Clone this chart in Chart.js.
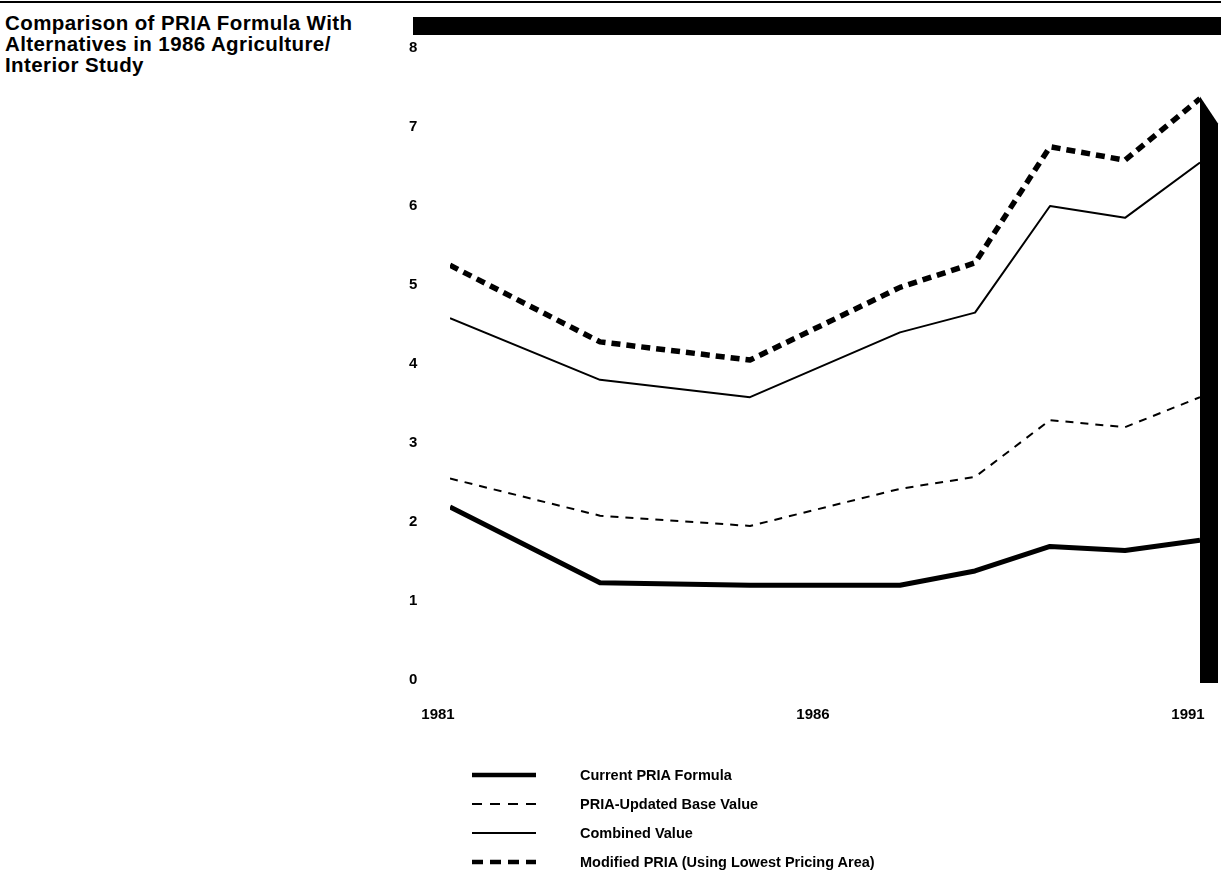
<!DOCTYPE html>
<html>
<head>
<meta charset="utf-8">
<script src="https://cdn.jsdelivr.net/npm/chart.js@4.4.1/dist/chart.umd.min.js"></script>
<style>
    body {
        margin: 0;
        width: 1221px;
        height: 880px;
        background: #ffffff;
        position: relative;
        overflow: hidden;
        font-family: "Liberation Sans", Arial, sans-serif;
        color: #000000;
    }
    .top_rule {
        position: absolute;
        left: 0;
        top: 1px;
        width: 1221px;
        height: 2px;
        background: #000000;
    }
    .page_title {
        position: absolute;
        left: 5px;
        top: 12px;
        font-size: 20.5px;
        line-height: 21px;
        font-weight: bold;
        letter-spacing: 0.4px;
    }
    .chart_box {
        position: absolute;
        left: 400px;
        top: 0;
        width: 821px;
        height: 730px;
    }
    .legend_box {
        position: absolute;
        left: 472px;
        top: 760px;
    }
    .legend_row {
        height: 29px;
        display: flex;
        align-items: center;
        font-size: 14.5px;
        font-weight: bold;
    }
    .legend_row canvas {
        width: 64px;
        height: 10px;
        margin-right: 44px;
    }
</style>
</head>
<body>
<div class="top_rule"></div>
<div class="page_title">Comparison of PRIA Formula With<br>Alternatives in 1986 Agriculture/<br>Interior Study</div>
<div class="chart_box"><canvas id="pria_chart"></canvas></div>
<div class="legend_box" id="pria_legend"></div>

<script>
// years where the plotted lines change direction
const pria_years = [1981, 1983, 1985, 1987, 1988, 1989, 1990, 1991];
const current_formula = [2.19, 1.23, 1.20, 1.20, 1.38, 1.69, 1.64, 1.77];
const updated_base = [2.55, 2.08, 1.95, 2.42, 2.57, 3.29, 3.20, 3.58];
const combined_value = [4.58, 3.80, 3.58, 4.40, 4.65, 6.00, 5.85, 6.55];
const modified_pria = [5.25, 4.28, 4.05, 4.97, 5.28, 6.75, 6.58, 7.36];
const x_tick_years = [1981, 1986, 1991];
const y_tick_values = [0, 1, 2, 3, 4, 5, 6, 7, 8];

const pria_series = [
    { label: 'Current PRIA Formula', values: current_formula, width: 5, dash: [] },
    { label: 'PRIA-Updated Base Value', values: updated_base, width: 2, dash: [8, 7] },
    { label: 'Combined Value', values: combined_value, width: 2, dash: [] },
    { label: 'Modified PRIA (Using Lowest Pricing Area)', values: modified_pria, width: 5.5, dash: [9, 6] },
];

function pria_points(values) {
    return pria_years.map(function (year, idx) {
        return { x: year, y: values[idx] };
    });
}

// black frame pieces of the original page: top band and right post
const pria_frame_plugin = {
    id: 'pria_frame',
    afterDatasetsDraw(chart) {
        const ctx = chart.ctx;
        const area = chart.chartArea;
        const x_scale = chart.scales.x;
        const y_scale = chart.scales.y;
        const post_left = x_scale.getPixelForValue(1991);
        const post_top = y_scale.getPixelForValue(modified_pria[modified_pria.length - 1]);

        ctx.save();
        ctx.fillStyle = '#000000';
        ctx.fillRect(13, 17, chart.width - 13, 18);

        ctx.beginPath();
        ctx.moveTo(post_left, post_top - 2);
        ctx.lineTo(post_left + 18, post_top + 25);
        ctx.lineTo(post_left + 18, area.bottom + 3);
        ctx.lineTo(post_left, area.bottom + 3);
        ctx.closePath();
        ctx.fill();
        ctx.restore();
    },
};

function pria_tick_font() {
    return { family: '"Liberation Sans", Arial, sans-serif', size: 15, weight: 'bold' };
}

function pria_build_chart() {
    const canvas = document.getElementById('pria_chart');
    if (!canvas || typeof Chart === 'undefined') {
        return;
    }

    new Chart(canvas.getContext('2d'), {
        type: 'line',
        data: {
            datasets: pria_series.map(function (s) {
                return {
                    label: s.label,
                    data: pria_points(s.values),
                    borderColor: '#000000',
                    borderWidth: s.width,
                    borderDash: s.dash,
                    borderCapStyle: 'butt',
                    borderJoinStyle: 'round',
                    pointRadius: 0,
                    tension: 0,
                    fill: false,
                };
            }),
        },
        options: {
            responsive: true,
            maintainAspectRatio: false,
            animation: false,
            layout: {
                padding: { top: 48, right: 21, bottom: 0, left: 9 },
            },
            plugins: {
                legend: { display: false },
                tooltip: { enabled: false },
            },
            scales: {
                x: {
                    type: 'linear',
                    min: 1981,
                    max: 1991,
                    grid: { display: false },
                    border: { display: false },
                    afterBuildTicks(scale) {
                        scale.ticks = x_tick_years.map(function (v) { return { value: v }; });
                    },
                    afterFit(scale) {
                        scale.height = 50;
                        scale.paddingLeft = 0;
                        scale.paddingRight = 0;
                    },
                    ticks: {
                        color: '#000000',
                        font: pria_tick_font(),
                        padding: 18,
                        labelOffset: -12,
                        maxRotation: 0,
                        callback: function (v) { return String(v); },
                    },
                },
                y: {
                    min: 0,
                    max: 8,
                    grid: { display: false },
                    border: { display: false },
                    afterBuildTicks(scale) {
                        scale.ticks = y_tick_values.map(function (v) { return { value: v }; });
                    },
                    afterFit(scale) {
                        scale.width = 41;
                    },
                    ticks: {
                        color: '#000000',
                        font: pria_tick_font(),
                        crossAlign: 'far',
                        padding: 0,
                    },
                },
            },
        },
        plugins: [pria_frame_plugin],
    });
}

function pria_build_legend() {
    const box = document.getElementById('pria_legend');
    if (!box) {
        return;
    }

    pria_series.forEach(function (s) {
        const row = document.createElement('div');
        row.className = 'legend_row';
        const swatch = document.createElement('canvas');
        swatch.width = 64;
        swatch.height = 10;
        const ctx = swatch.getContext('2d');
        ctx.strokeStyle = '#000000';
        ctx.lineWidth = Math.min(s.width, 4.5);
        ctx.setLineDash(s.dash.length ? [s.dash[0] + 2, s.dash[1] + 1] : []);
        ctx.beginPath();
        ctx.moveTo(0, 5);
        ctx.lineTo(64, 5);
        ctx.stroke();
        const text = document.createElement('span');
        text.textContent = s.label;
        row.appendChild(swatch);
        row.appendChild(text);
        box.appendChild(row);
    });
}

pria_build_chart();
pria_build_legend();
</script>
</body>
</html>
